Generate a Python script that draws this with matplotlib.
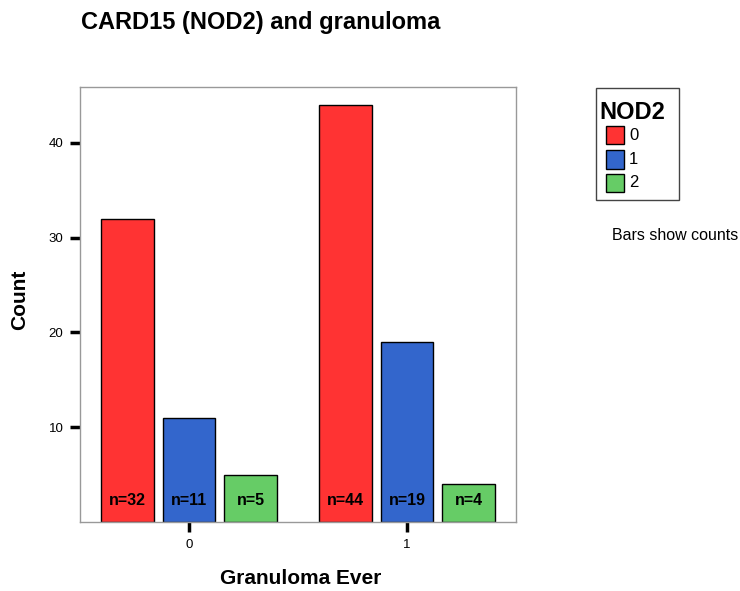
import matplotlib
matplotlib.use("Agg")
import matplotlib.pyplot as plt
import numpy as np
from matplotlib.patches import Rectangle

plt.rcParams['font.family'] = ['Liberation Sans', 'DejaVu Sans']

groups = ["0", "1"]
nod2_levels = ["0", "1", "2"]
counts = {
    "0": [32, 44],
    "1": [11, 19],
    "2": [5, 4],
}
colors = ["#ff3333", "#3366cc", "#66cc66"]

W, H = 740, 591
fig = plt.figure(figsize=(W / 100, H / 100), dpi=100)


def fx(px):
    return px / W


def fy(py):
    return 1 - py / H


ax = fig.add_axes([fx(80), fy(522), 436 / W, 435 / H])

x = np.arange(len(groups))
width = 0.243
offset = 0.284
for i, lvl in enumerate(nod2_levels):
    pos = x + (i - 1) * offset
    ax.bar(pos, counts[lvl], width=width, color=colors[i],
           edgecolor="black", linewidth=1.0, zorder=2)
    for xp, v in zip(pos, counts[lvl]):
        ax.text(xp, 2.3, f"n={v}", ha="center", va="center",
                fontsize=11.5, fontweight="bold", color="black", zorder=3)

ax.set_xlim(-0.5, 1.5)
ax.set_ylim(0, 45.9)
ax.set_xticks(x)
ax.set_xticklabels(groups)
ax.set_yticks([10, 20, 30, 40])
ax.tick_params(axis="both", direction="out", length=7, width=2.5,
               color="black", labelsize=9.5, pad=5)
for sp in ax.spines.values():
    sp.set_color("#999999")
    sp.set_linewidth(1.0)

# axis titles and chart title
fig.text(fx(20), fy(300), "Count", fontsize=15, fontweight="bold",
         rotation=90, ha="center", va="center")
fig.text(fx(301), fy(579), "Granuloma Ever", fontsize=15, fontweight="bold",
         ha="center", va="center")
fig.text(fx(81), fy(22), "CARD15 (NOD2) and granuloma", fontsize=17,
         fontweight="bold", ha="left", va="center")

# legend box
fig.add_artist(Rectangle((fx(595.5), fy(200.5)), 83 / W, 112.5 / H,
                         transform=fig.transFigure, facecolor="white",
                         edgecolor="#444444", linewidth=1.0))
fig.text(fx(599), fy(113), "NOD2", fontsize=17, fontweight="bold",
         ha="left", va="center")
patch_tops = [125.5, 150.5, 173.5]
for c, lab, top in zip(colors, nod2_levels, patch_tops):
    fig.add_artist(Rectangle((fx(605.5), fy(top + 18.5)), 18.5 / W, 18.5 / H,
                             transform=fig.transFigure, facecolor=c,
                             edgecolor="black", linewidth=1.0))
    fig.text(fx(629), fy(top + 9.5), lab, fontsize=12, ha="left", va="center")

fig.text(fx(612), fy(236), "Bars show counts", fontsize=11.5,
         ha="left", va="center")

fig.savefig("out.png", dpi=100)
